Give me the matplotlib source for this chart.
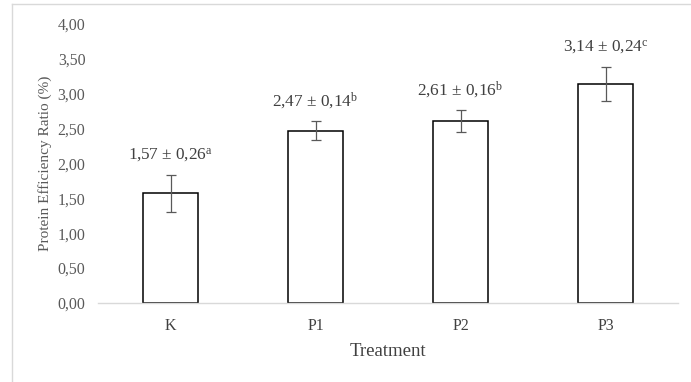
import matplotlib
matplotlib.use("Agg")
import matplotlib.pyplot as plt
from matplotlib.lines import Line2D

# data
treatments = ["K", "P1", "P2", "P3"]
means = [1.57, 2.47, 2.61, 3.14]
sds = [0.26, 0.14, 0.16, 0.24]
letters = ["a", "b", "b", "c"]
yticks = [0.0, 0.5, 1.0, 1.5, 2.0, 2.5, 3.0, 3.5, 4.0]

plt.rcParams['font.family'] = ['Liberation Serif', 'DejaVu Serif']
plt.rcParams['mathtext.fontset'] = 'custom'
plt.rcParams['mathtext.rm'] = 'Liberation Serif'
plt.rcParams['mathtext.it'] = 'Liberation Serif:italic'

fig = plt.figure(figsize=(6.91, 3.82), dpi=100)
ax = fig.add_axes([98 / 691, 79 / 382, 580 / 691, 279 / 382])

x = range(len(treatments))
ax.bar(x, means, width=0.386, color='white', edgecolor='black', linewidth=1.1, zorder=2)
ax.errorbar(x, means, yerr=sds, fmt='none', ecolor='#595959', elinewidth=0.9,
            capsize=3.6, capthick=0.9, zorder=3)

for i, (m, s, l) in enumerate(zip(means, sds, letters)):
    label = f"{m:.2f} ± {s:.2f}".replace('.', ',') + r"$^{\mathrm{" + l + "}}$"
    ax.text(i, m + s + 0.29, label, ha='center', va='center', fontsize=12.4, color='#404040')

ax.set_xlim(-0.5, 3.5)
ax.set_ylim(0, 4)
ax.set_xticks(list(x))
ax.set_xticklabels(treatments, fontsize=11.5, color='#404040')
ax.set_yticks(yticks)
ax.set_yticklabels([f"{v:.2f}".replace('.', ',') for v in yticks], fontsize=11.4, color='#595959')
ax.tick_params(length=0, pad=9)
ax.tick_params(axis='x', pad=11)

for side in ['top', 'right', 'left']:
    ax.spines[side].set_visible(False)
ax.spines['bottom'].set_color('#d9d9d9')
ax.spines['bottom'].set_linewidth(1.0)

ax.set_xlabel("Treatment", fontsize=13.5, color='#404040', labelpad=6)
fig.text(45 / 691, 1 - 163 / 382, "Protein Efficiency Ratio (%)", rotation=90,
         ha='center', va='center', fontsize=11, color='#595959')

# thin frame from the original export
fig.add_artist(Line2D([11.5 / 691, 11.5 / 691], [0, 1 - 3.5 / 382], color='#d9d9d9', linewidth=1.0))
fig.add_artist(Line2D([11.5 / 691, 1], [1 - 3.5 / 382, 1 - 3.5 / 382], color='#d9d9d9', linewidth=1.0))

fig.savefig("out.png", dpi=100)
